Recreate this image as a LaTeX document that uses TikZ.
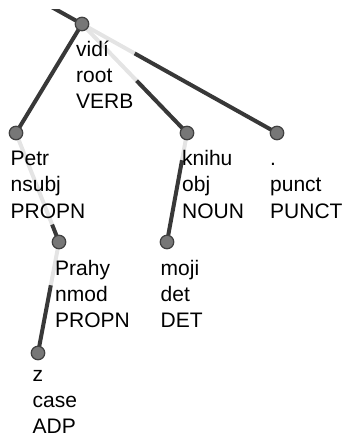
\documentclass[tikz,border=0pt]{standalone}
\usepackage{fontspec}
\setmainfont{Liberation Sans}
\usetikzlibrary{backgrounds}
\definecolor{edgedark}{HTML}{383838}
\definecolor{edgelight}{HTML}{E4E4E4}
\definecolor{dotfill}{HTML}{777777}
\definecolor{dotline}{HTML}{404040}
\newcommand{\lbltxt}[3]{\vtop{\hbox{#1}\hbox{#2}\hbox{#3}}}
\begin{document}
\begin{tikzpicture}[x=1pt,y=-1pt,
  dot/.style={circle,fill=dotfill,draw=dotline,line width=1.2pt,minimum size=13.5pt,inner sep=0pt},
  dark/.style={draw=edgedark,line width=4pt},
  light/.style={draw=edgelight,line width=4pt},
  lbl/.style={anchor=base west,inner sep=0pt,text=black,font=\fontsize{21}{26}\selectfont}]
\useasboundingbox (0,0) rectangle (345,438);
% dots
\node[dot] (vidi) at (82,24) {};
\node[dot] (petr) at (16,133) {};
\node[dot] (knihu) at (187,133) {};
\node[dot] (punct) at (277,133) {};
\node[dot] (prahy) at (59,242) {};
\node[dot] (moji) at (167,242) {};
\node[dot] (z) at (38,353) {};
\coordinate (in0) at (39,0);
% labels
\node[lbl] (vidi-l) at (76,57) {\lbltxt{vidí}{root}{VERB}};
\node[lbl] (petr-l) at (10.5,166) {\lbltxt{Petr}{nsubj}{PROPN}};
\node[lbl] (knihu-l) at (182,166) {\lbltxt{knihu}{obj}{NOUN}};
\node[lbl] (punct-l) at (270,166) {\lbltxt{.}{punct}{PUNCT}};
\node[lbl] (prahy-l) at (55,275) {\lbltxt{Prahy}{nmod}{PROPN}};
\node[lbl] (moji-l) at (160.5,275) {\lbltxt{moji}{det}{DET}};
\node[lbl] (z-l) at (32.5,381.5) {\lbltxt{z}{case}{ADP}};
% edges
\begin{pgfonlayer}{background}
  \begin{scope}
    \clip (0,10) rectangle (345,438);
    \draw[dark] (in0) -- (vidi.center);
  \end{scope}
  \path (vidi.center) -- (knihu.center) coordinate[pos=0.52] (b-knihu);
  \path (vidi.center) -- (punct.center) coordinate[pos=0.27] (b-punct);
  \path (petr.center) -- (prahy.center) coordinate[pos=0.84] (b-prahy);
  \path (knihu.center) -- (moji.center) coordinate[pos=0.25] (b-moji);
  \path (prahy.center) -- (z.center) coordinate[pos=0.39] (b-z);
  \draw[dark] (vidi.center) -- (petr.center);
  \draw[light] (vidi.center) -- (b-knihu);
  \draw[dark] (b-knihu) -- (knihu.center);
  \draw[light] (vidi.center) -- (b-punct);
  \draw[dark] (b-punct) -- (punct.center);
  \draw[light] (petr.center) -- (b-prahy);
  \draw[dark] (b-prahy) -- (prahy.center);
  \draw[light] (knihu.center) -- (b-moji);
  \draw[dark] (b-moji) -- (moji.center);
  \draw[light] (prahy.center) -- (b-z);
  \draw[dark] (b-z) -- (z.center);
\end{pgfonlayer}
\end{tikzpicture}
\end{document}
